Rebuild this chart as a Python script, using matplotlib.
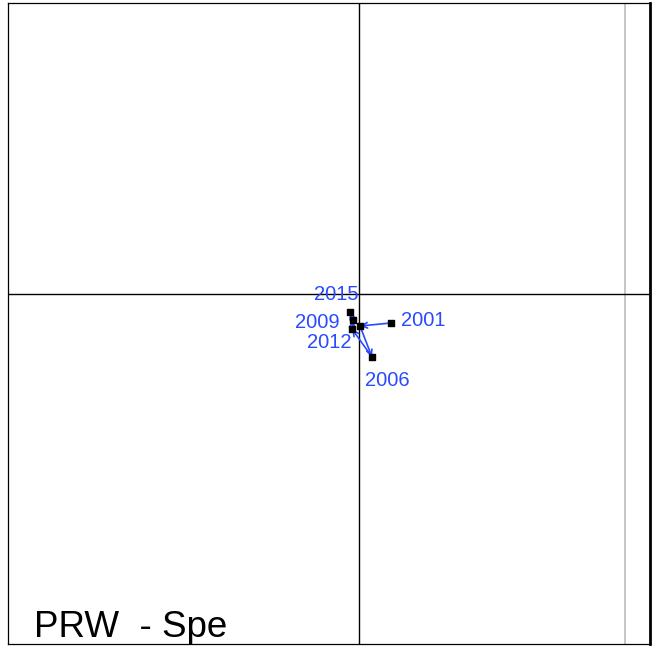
import numpy as np
import matplotlib.pyplot as plt

# trajectory coordinates (in order), one unlabeled intermediate point
traj_x = [0.32, 0.01, 0.13, -0.07, -0.06, -0.09]
traj_y = [-0.29, -0.32, -0.63, -0.35, -0.26, -0.18]
traj_lab = ['2001', '', '2006', '2012', '2009', '2015']

xlim = (-3.51, 2.91)
ylim = (-3.50, 2.91)
grid_x = 2.66

blue = '#2a4aff'

fig = plt.figure(figsize=(6.52, 6.46), dpi=100)
ax = fig.add_axes([8/652, 2/646, 642/652, 641/646])
ax.set_xlim(*xlim)
ax.set_ylim(*ylim)
ax.set_xticks([])
ax.set_yticks([])
for s in ax.spines.values():
    s.set_color('black')
    s.set_linewidth(0.9)
ax.spines['right'].set_linewidth(2)

ax.axvline(grid_x, color='#bbbbbb', lw=1.2, zorder=0)
ax.axhline(0, color='black', lw=1)
ax.axvline(0, color='black', lw=1)

# arrows between successive points
for i in range(len(traj_x) - 1):
    ax.annotate('', xy=(traj_x[i+1], traj_y[i+1]), xytext=(traj_x[i], traj_y[i]),
                arrowprops=dict(arrowstyle='->', color=blue, lw=1.2,
                                shrinkA=0, shrinkB=0, mutation_scale=10))
ax.scatter(traj_x, traj_y, s=14, color='black', zorder=3, marker='s')

# label anchor offsets (data units) and alignment
offsets = {'2001': (0.10, 0.03, 'left'), '2006': (-0.07, -0.23, 'left'),
           '2009': (-0.13, -0.03, 'right'), '2012': (0.0, -0.14, 'right'),
           '2015': (0.09, 0.18, 'right')}
for x, y, lab in zip(traj_x, traj_y, traj_lab):
    if lab:
        dx, dy, ha = offsets[lab]
        ax.text(x + dx, y + dy, lab, color=blue, fontsize=14.5,
                ha=ha, va='center', family='Liberation Sans')

ax.text(-3.25, -3.43, 'PRW  - Spe', fontsize=26.5, ha='left', va='baseline',
        family='Liberation Sans')

fig.savefig('out.png', dpi=100)
